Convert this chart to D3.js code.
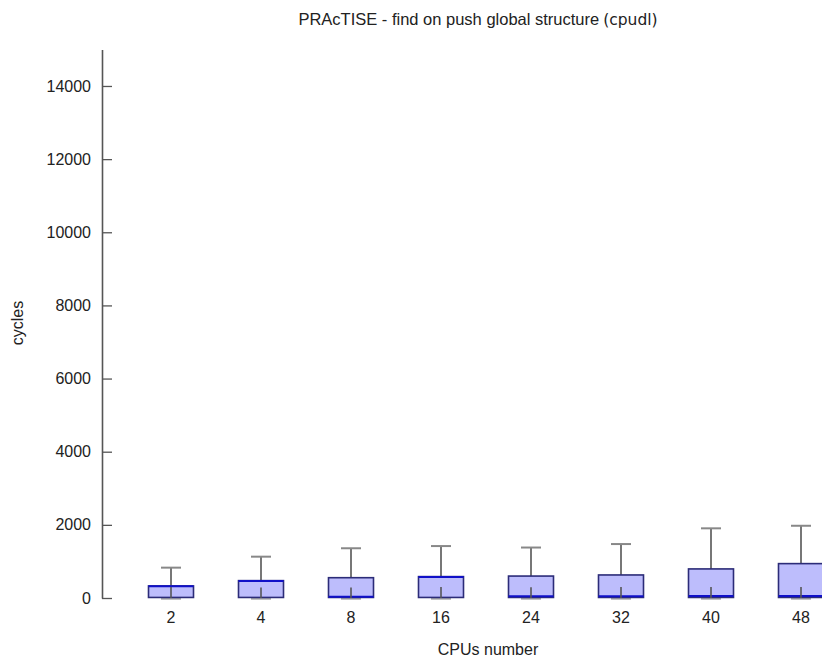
<!DOCTYPE html>
<html>
<head>
<meta charset="utf-8">
<script src="https://cdn.jsdelivr.net/npm/d3@7"></script>
<style>
  body { margin: 0; background: #fff; }
  text { font-family: "Liberation Sans", Arial, sans-serif; fill: #222; }
</style>
</head>
<body>
<svg id="chart"></svg>
<script>
// data (cycles)
const categories = ["2", "4", "8", "16", "24", "32", "40", "48"];
const minVals    = [0, 0, 0, 0, 0, 0, 0, 0];
const q1Vals     = [15, 15, 15, 15, 15, 15, 15, 15];
const medianVals = [320, 465, 35, 575, 45, 45, 55, 55];
const q3Vals     = [330, 475, 555, 585, 600, 630, 795, 940];
const maxVals    = [830, 1130, 1360, 1420, 1380, 1475, 1905, 1975];
const stemTop    = [300, 290, 285, 300, 295, 300, 300, 300];
const yTicks     = [0, 2000, 4000, 6000, 8000, 10000, 12000, 14000];

const width = 822, height = 658;
const svg = d3.select("#chart").attr("width", width).attr("height", height);

const x = d3.scaleBand()
    .domain(categories)
    .range([126, 126 + 90 * categories.length]);

const y = d3.scaleLinear()
    .domain([0, 15000])
    .range([598, 49.4]);

const data = categories.map((c, i) => ({
    cat: c, min: minVals[i], q1: q1Vals[i], med: medianVals[i],
    q3: q3Vals[i], max: maxVals[i], stem: stemTop[i]
}));

// y axis, ticks pointing inside
const yAxis = svg.append("g")
    .attr("transform", "translate(102,0)")
    .call(d3.axisLeft(y).tickValues(yTicks).tickFormat(d3.format("d"))
        .tickSize(-10).tickSizeOuter(0).tickPadding(11));
yAxis.select(".domain").attr("stroke", "#555").attr("stroke-width", 1.6);
yAxis.selectAll(".tick line").attr("stroke", "#555").attr("stroke-width", 1.3);
yAxis.selectAll(".tick text")
    .style("font-family", "'Liberation Sans', Arial, sans-serif")
    .style("font-size", "16px").attr("fill", "#222");

// x labels, no axis line
svg.append("g").selectAll("text")
    .data(categories)
    .join("text")
    .attr("x", d => x(d) + x.bandwidth() / 2)
    .attr("y", 623)
    .attr("text-anchor", "middle")
    .style("font-size", "16px")
    .text(d => d);

const boxW = x.bandwidth() * 0.5;
const capW = 20;
const g = svg.append("g");
const cx = d => x(d.cat) + x.bandwidth() / 2;

// lower cap
g.selectAll(".lcap").data(data).join("line")
    .attr("x1", d => cx(d) - capW / 2).attr("x2", d => cx(d) + capW / 2)
    .attr("y1", d => y(d.min) + 0.7).attr("y2", d => y(d.min) + 0.7)
    .attr("stroke", "#aaa").attr("stroke-width", 2);

// upper whisker
g.selectAll(".uwhisk").data(data).join("line")
    .attr("x1", cx).attr("x2", cx)
    .attr("y1", d => y(d.q3)).attr("y2", d => y(d.max))
    .attr("stroke", "#555").attr("stroke-width", 1.6);
g.selectAll(".ucap").data(data).join("line")
    .attr("x1", d => cx(d) - capW / 2).attr("x2", d => cx(d) + capW / 2)
    .attr("y1", d => y(d.max)).attr("y2", d => y(d.max))
    .attr("stroke", "#888").attr("stroke-width", 2);

// boxes
g.selectAll(".box").data(data).join("rect")
    .attr("x", d => cx(d) - boxW / 2)
    .attr("width", boxW)
    .attr("y", d => y(d.q3))
    .attr("height", d => y(d.q1) - y(d.q3))
    .attr("fill", "#bdbdfc")
    .attr("stroke", "#2c2c78")
    .attr("stroke-width", 1.6);

// median
g.selectAll(".med").data(data).join("line")
    .attr("x1", d => cx(d) - boxW / 2).attr("x2", d => cx(d) + boxW / 2)
    .attr("y1", d => y(d.med)).attr("y2", d => y(d.med))
    .attr("stroke", "#1010c8").attr("stroke-width", 2);

// lower stem inside the box
g.selectAll(".lstem").data(data).join("line")
    .attr("x1", cx).attr("x2", cx)
    .attr("y1", d => y(d.min)).attr("y2", d => y(d.stem))
    .attr("stroke", "#555").attr("stroke-width", 1.6);

// title
const title = svg.append("text")
    .attr("x", 478).attr("y", 25)
    .attr("text-anchor", "middle")
    .style("font-size", "16.5px");
title.append("tspan").text("PRAcTISE - find on push global structure");
title.append("tspan")
    .attr("dx", 4)
    .style("font-family", "'DejaVu Sans', sans-serif")
    .style("font-size", "15.5px")
    .text("(cpudl)");

// axis titles
svg.append("text")
    .attr("x", 488).attr("y", 655)
    .attr("text-anchor", "middle")
    .style("font-size", "16px")
    .text("CPUs number");

svg.append("text")
    .attr("transform", "translate(23,323) rotate(-90)")
    .attr("text-anchor", "middle")
    .style("font-size", "16px")
    .text("cycles");
</script>
</body>
</html>
